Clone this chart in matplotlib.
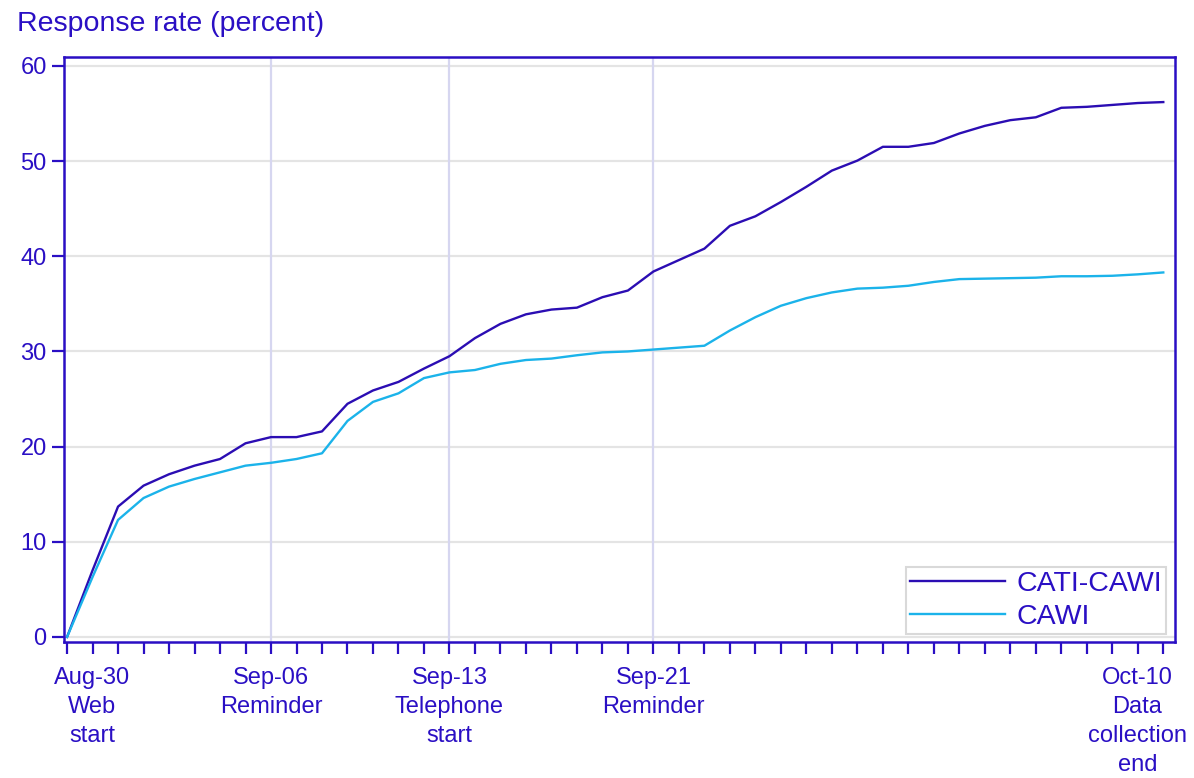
import numpy as np
import matplotlib
matplotlib.use("Agg")
import matplotlib.pyplot as plt
import matplotlib.transforms as mtransforms

plt.rcParams['font.family'] = ['Liberation Sans', 'DejaVu Sans']

# Daily response rate (percent), one value per collection day
cati_cawi = [0.0, 7.0, 13.7, 15.9, 17.1, 18.0, 18.7, 20.35, 21.0, 21.0,
             21.6, 24.5, 25.9, 26.8, 28.2, 29.5, 31.4, 32.9, 33.9, 34.4,
             34.6, 35.7, 36.4, 38.4, 39.6, 40.8, 43.2, 44.2, 45.7, 47.3,
             49.0, 50.05, 51.5, 51.5, 51.9, 52.9, 53.7, 54.3, 54.6, 55.6,
             55.7, 55.9, 56.1, 56.2]
cawi = [0.0, 6.3, 12.3, 14.6, 15.8, 16.6, 17.3, 18.0, 18.3, 18.7,
        19.3, 22.7, 24.7, 25.6, 27.2, 27.8, 28.05, 28.7, 29.1, 29.25,
        29.6, 29.9, 30.0, 30.2, 30.4, 30.6, 32.2, 33.6, 34.8, 35.6,
        36.2, 36.6, 36.7, 36.9, 37.3, 37.6, 37.65, 37.7, 37.75, 37.9,
        37.9, 37.95, 38.1, 38.3]

# labelled days (index into the daily series) and their text
label_pos = [0, 8, 15, 23, 43]
label_text = ["Aug-30\nWeb\nstart", "Sep-06\nReminder", "Sep-13\nTelephone\nstart",
              "Sep-21\nReminder", "Oct-10\nData\ncollection\nend"]
event_lines = [8, 15, 23]

txt_col = '#2a0fc4'
days = np.arange(len(cati_cawi))

fig = plt.figure(figsize=(11.94, 7.78), dpi=100)
ax = fig.add_axes([0.0536, 0.1744, 0.9305, 0.7519])

ax.set_axisbelow(True)
for v in range(0, 70, 10):
    ax.axhline(v, color='#e4e4e4', lw=1.6, zorder=0)
for d in event_lines:
    ax.axvline(d, color='#d6d6f0', lw=1.6, zorder=0)

ax.plot(days, cati_cawi, color='#2b0db3', lw=1.7, label='CATI-CAWI')
ax.plot(days, cawi, color='#1bb3ea', lw=1.7, label='CAWI')

ax.set_xlim(-0.12, 43.46)
ax.set_ylim(-0.56, 60.9)
ax.set_yticks(range(0, 70, 10))

ax.set_xticks(days)
labels = [''] * len(days)
for p, t in zip(label_pos, label_text):
    labels[p] = t
ax.set_xticklabels(labels, linespacing=1.42)

ax.tick_params(axis='both', colors=txt_col, labelsize=17, length=8.5, width=1.6,
               direction='out')
ax.tick_params(axis='x', pad=9)
ax.tick_params(axis='y', pad=4)
for s in ax.spines.values():
    s.set_color(txt_col)
    s.set_linewidth(1.8)

# first and last labels are nudged inward so they stay inside the figure
ticklabels = ax.get_xticklabels()
for p, dx in [(label_pos[0], 25), (label_pos[-1], -26)]:
    lab = ticklabels[p]
    lab.set_transform(lab.get_transform() +
                      mtransforms.ScaledTranslation(dx / 100, 0, fig.dpi_scale_trans))

leg = ax.legend(loc='lower right', fontsize=20.5, frameon=True, fancybox=False,
                borderaxespad=0.3, handlelength=3.35, labelspacing=0.22,
                borderpad=0.15, handletextpad=0.4)
leg.get_frame().set_edgecolor('#d0d0d0')
leg.get_frame().set_linewidth(1.5)
for t in leg.get_texts():
    t.set_color(txt_col)

fig.text(17 / 1194, 1 - 31 / 778, 'Response rate (percent)', color=txt_col,
         fontsize=20.5, ha='left', va='baseline')

fig.savefig('out.png', dpi=100)
